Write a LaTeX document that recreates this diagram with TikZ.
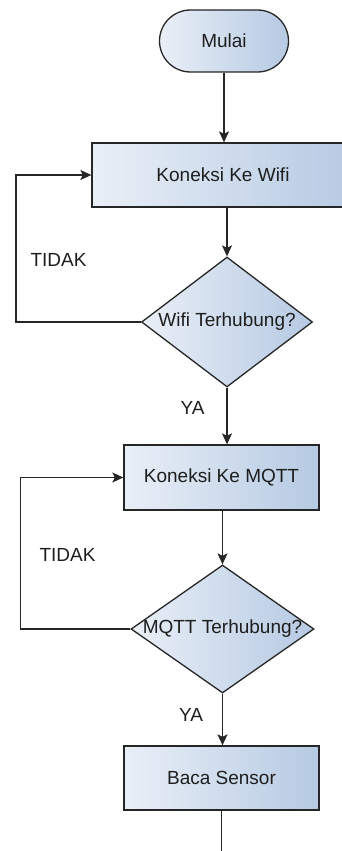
\documentclass[tikz,border=0pt]{standalone}
\usepackage{fontspec}
\setmainfont{Liberation Sans}
\usetikzlibrary{arrows.meta,shapes.geometric}
\definecolor{BoxLeft}{HTML}{E9EFF7}
\definecolor{BoxRight}{HTML}{B6CAE3}
\definecolor{LineDark}{HTML}{262626}
\definecolor{LabelText}{HTML}{1E1E1E}
\newcommand{\flowfont}{\fontsize{19pt}{22pt}\selectfont}
\tikzset{
  procbox/.style={draw=LineDark,line width=1.3pt,left color=BoxLeft,right color=BoxRight,minimum height=64pt,inner sep=0pt,font=\flowfont,text=LabelText},
  termbox/.style={procbox,rounded corners=31pt,minimum width=129pt,minimum height=62pt},
  decbox/.style={diamond,draw=LineDark,line width=1.3pt,left color=BoxLeft,right color=BoxRight,inner sep=0pt},
  flow/.style={draw=LineDark,line width=1.3pt,-{Stealth[length=11pt,width=10pt,inset=2.5pt]}},
  plain/.style={draw=LineDark,line width=1.3pt},
  tag/.style={font=\flowfont,text=LabelText,inner sep=0pt}
}

\begin{document}
\begin{tikzpicture}[x=1pt,y=-1pt]
  \useasboundingbox (0,0) rectangle (342,851);
  \node[termbox] (mulai) at (224,41) {Mulai};
  \node[procbox,minimum width=262pt] (wifi) at (223,175) {Koneksi Ke Wifi};
  \node[decbox,minimum width=171pt,minimum height=130pt,label={[tag]center:Wifi Terhubung?}] (cekwifi) at (227,322) {};
  \node[procbox,minimum width=195pt,minimum height=65pt] (mqtt) at (221.5,477.5) {Koneksi Ke MQTT};
  \node[decbox,minimum width=183pt,minimum height=128pt,label={[tag]center:MQTT Terhubung?}] (cekmqtt) at (222.5,629) {};
  \node[procbox,minimum width=195pt] (baca) at (221.5,778) {Baca Sensor};
  \coordinate (lanjut) at (221.5,851);
  \node[tag] (tidakwifi) at (58.5,260) {TIDAK};
  \node[tag] (yawifi) at (192.5,408) {YA};
  \node[tag] (tidakmqtt) at (67.5,555) {TIDAK};
  \node[tag] (yamqtt) at (191,715) {YA};
  % alur utama
  \draw[flow] (mulai.south) -- (mulai.south |- wifi.north);
  \draw[flow] (wifi.south -| cekwifi.north) -- (cekwifi.north);
  \draw[flow] (cekwifi.south) -- (cekwifi.south |- mqtt.north);
  \draw[flow] (mqtt.south -| cekmqtt.north) -- (cekmqtt.north);
  \draw[flow] (cekmqtt.south) -- (cekmqtt.south |- baca.north);
  \draw[plain] (baca.south) -- (lanjut);
  % ulang jika belum terhubung
  \draw[flow] (cekwifi.west) -- ++(-125,0) |- (wifi.west);
  \draw[flow] (cekmqtt.west) -- ++(-110,0) |- (mqtt.west);
\end{tikzpicture}
\end{document}
